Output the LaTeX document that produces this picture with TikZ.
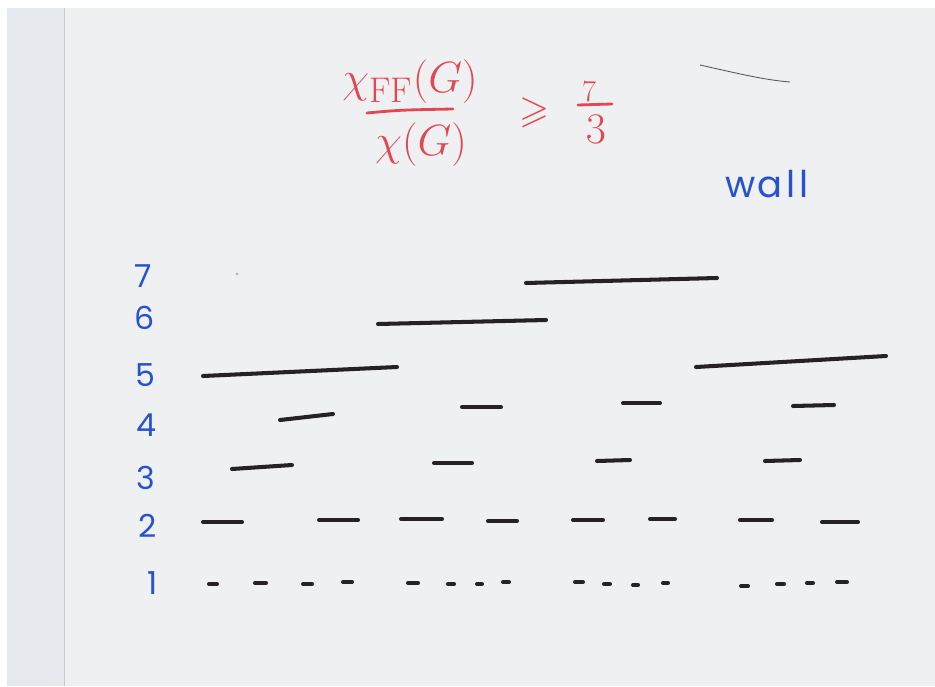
\documentclass[tikz,border=0pt]{standalone}
\usepackage{fontspec}
\usepackage{amsmath,amssymb}
\newfontfamily\handfont{Poppins}
\definecolor{paper}{RGB}{238,240,242}
\definecolor{strip}{RGB}{229,233,237}
\definecolor{inkred}{RGB}{226,72,84}
\definecolor{inkblue}{RGB}{40,82,205}
\definecolor{inkblack}{RGB}{38,34,36}
\usetikzlibrary{calc}

\begin{document}
\begin{tikzpicture}[
        x=0.02cm, y=-0.02cm,
        seg/.style={draw=inkblack, line width=2.3pt, line cap=round},
        bar/.style={draw=inkred, line width=1.6pt, line cap=round},
        level/.style={text=inkblue, font=\handfont\fontsize{18}{20}\selectfont, inner sep=0pt},
        mathred/.style={text=inkred, inner sep=0pt}
    ]
        % Kertas hasil pindaian
        \useasboundingbox (0,0) rectangle (935,686);
        \fill[white] (0,0) rectangle (935,686);
        \fill[strip] (7,8) rectangle (65,686);
        \fill[paper] (65,8) rectangle (935,686);
        \draw[gray!40, line width=0.4pt] (64,8) -- (64,686);

        % Goresan pensil dan noda kecil
        \draw[gray!70!black, line width=0.5pt] (700,65) .. controls (740,74) and (765,80) .. (790,82);
        \fill[gray!60] (237,274) circle (1.5);

        % Rasio di atas
        \node[mathred, font=\fontsize{29}{31}\selectfont] (num) at (410,82) {$\chi_{\mathrm{FF}}(G)$};
        \node[mathred, font=\fontsize{29}{31}\selectfont] (den) at (421,145) {$\chi(G)$};
        \draw[bar] (367,113) .. controls (400,110) .. (453,109);
        \node[mathred, font=\fontsize{22}{24}\selectfont] (geq) at (535,113) {$\geqslant$};
        \node[mathred, font=\fontsize{17}{19}\selectfont] (seven) at (589,92) {$7$};
        \draw[bar] (578,105) -- (612,104);
        \node[mathred, font=\fontsize{27}{29}\selectfont] (three) at (596,129) {$3$};

        % Label dinding
        \node[level, font=\handfont\fontsize{21}{23}\selectfont] (wall) at (767,184) {w\kern1pt a\kern2pt l\kern2pt l};

        % Nomor tingkat
        \node[level] (n7) at (143,276) {7};
        \node[level] (n6) at (145,318) {6};
        \node[level] (n5) at (145,375) {5};
        \node[level] (n4) at (146,425) {4};
        \node[level] (n3) at (146,478) {3};
        \node[level] (n2) at (148,526) {2};
        \node[level] (n1) at (153,583) {1};

        % Tingkat 7 dan 6
        \draw[seg] (526,283) -- (717,278);
        \draw[seg] (378,324) -- (546,320);

        % Tingkat 5
        \draw[seg] (203,376) -- (397,367);
        \draw[seg] (696,367) -- (886,356);

        % Tingkat 4
        \draw[seg] (280,420) -- (333,414);
        \draw[seg] (462,407) -- (501,407);
        \draw[seg] (623,403) -- (660,403);
        \draw[seg] (793,406) -- (834,405);

        % Tingkat 3
        \draw[seg] (232,469) -- (292,465);
        \draw[seg] (434,463) -- (472,463);
        \draw[seg] (597,461) -- (630,460);
        \draw[seg] (765,461) -- (800,460);

        % Tingkat 2
        \foreach \a/\b/\y in {203/242/522, 319/358/520, 401/442/519, 488/517/521,
                              573/603/520, 650/675/519, 740/772/520, 822/858/522}
            \draw[seg] (\a,\y) -- (\b,\y);

        % Tingkat 1
        \foreach \a/\b/\y in {209/217/584, 255/266/583, 303/312/584, 343/352/582,
                              408/418/583, 448/454/584, 477/482/584, 503/509/582,
                              575/583/582, 604/610/584, 633/638/585, 663/668/583,
                              741/748/586, 777/784/584, 807/813/583, 837/847/582}
            \draw[seg] (\a,\y) -- (\b,\y);

    \end{tikzpicture}
\end{document}
